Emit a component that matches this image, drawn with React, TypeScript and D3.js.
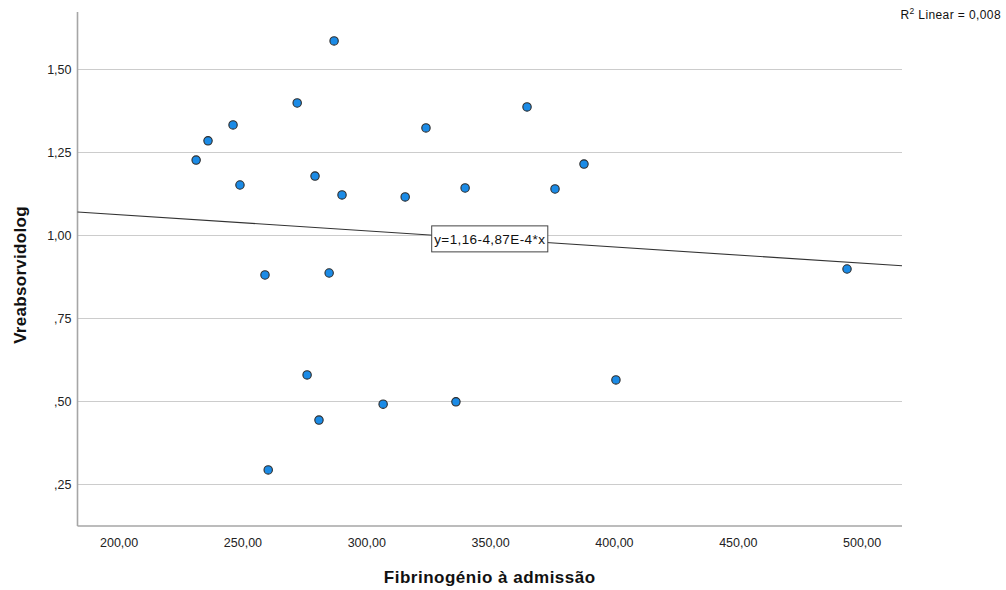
import React, { useRef, useEffect } from 'react';
import * as d3 from 'd3';

// values
const fibrinogenio = [
  231.1, 235.9, 246.0, 248.8, 258.9, 260.2, 271.9, 275.9, 279.1, 280.7, 284.8, 286.8,
  290.0, 306.6, 315.5, 323.9, 336.0, 339.7, 364.7, 376.0, 387.7, 400.6, 493.9,
];
const vreabsorvidolog = [
  1.227, 1.285, 1.333, 1.152, 0.881, 0.294, 1.399, 0.580, 1.179, 0.444, 0.887, 1.586,
  1.122, 0.492, 1.116, 1.324, 0.499, 1.143, 1.387, 1.140, 1.215, 0.565, 0.899,
];
const xTicks = [200, 250, 300, 350, 400, 450, 500];
const yTicks = [0.25, 0.5, 0.75, 1.0, 1.25, 1.5];
const xDomain = [183.2, 516.1];
const yDomain = [0.125, 1.673];
const fitIntercept = 1.16;
const fitSlope = -4.87e-4;
const fitLabel = 'y=1,16-4,87E-4*x';
const rSquared = '0,008';
const xTitle = 'Fibrinogénio à admissão';
const yTitle = 'Vreabsorvidolog';

const WIDTH = 1006;
const HEIGHT = 590;
const FONT = '"Liberation Sans", Arial, sans-serif';

const ptLocale = d3.formatLocale({ decimal: ',', thousands: '.', grouping: [3], currency: ['', ''] });
const fmt2 = ptLocale.format('.2f');
const spssFmt = (v: number) => fmt2(v).replace(/^0,/, ',');

const App: React.FC = () => {
  const ref = useRef<SVGSVGElement | null>(null);

  useEffect(() => {
    const margin = { top: 12, right: 104, bottom: 64, left: 77.5 };
    const w = WIDTH - margin.left - margin.right;
    const h = HEIGHT - margin.top - margin.bottom;

    const svg = d3.select(ref.current);
    svg.selectAll('*').remove();

    const x = d3.scaleLinear().domain(xDomain).range([0, w]);
    const y = d3.scaleLinear().domain(yDomain).range([h, 0]);

    const g = svg.append('g').attr('transform', `translate(${margin.left},${margin.top})`);

    // horizontal gridlines
    g.append('g')
      .selectAll('line')
      .data(yTicks)
      .join('line')
      .attr('x1', 0)
      .attr('x2', w)
      .attr('y1', d => Math.round(y(d)) + 0.5)
      .attr('y2', d => Math.round(y(d)) + 0.5)
      .attr('stroke', '#cccccc')
      .attr('stroke-width', 1.2);

    // axis lines
    g.append('line')
      .attr('x1', 0).attr('x2', 0).attr('y1', 0).attr('y2', h)
      .attr('stroke', '#a6a6a6').attr('stroke-width', 1.6);
    g.append('line')
      .attr('x1', 0).attr('x2', w).attr('y1', h).attr('y2', h)
      .attr('stroke', '#a6a6a6').attr('stroke-width', 1.6);

    // tick labels
    g.append('g')
      .selectAll('text')
      .data(yTicks)
      .join('text')
      .attr('x', -6)
      .attr('y', d => y(d))
      .attr('dy', '0.35em')
      .attr('text-anchor', 'end')
      .attr('font-family', FONT)
      .attr('font-size', '12.5px')
      .attr('fill', '#222')
      .text(d => spssFmt(d));

    g.append('g')
      .selectAll('text')
      .data(xTicks)
      .join('text')
      .attr('x', d => x(d))
      .attr('y', h + 21)
      .attr('text-anchor', 'middle')
      .attr('font-family', FONT)
      .attr('font-size', '12.5px')
      .attr('fill', '#222')
      .text(d => spssFmt(d));

    // axis titles
    g.append('text')
      .attr('x', w / 2)
      .attr('y', h + 57)
      .attr('text-anchor', 'middle')
      .attr('font-family', FONT)
      .attr('font-weight', 'bold')
      .attr('font-size', '17px')
      .attr('letter-spacing', '0.5px')
      .attr('fill', '#111')
      .text(xTitle);

    g.append('text')
      .attr('transform', 'rotate(-90)')
      .attr('x', -h / 2 - 6)
      .attr('y', -52)
      .attr('text-anchor', 'middle')
      .attr('font-family', FONT)
      .attr('font-weight', 'bold')
      .attr('font-size', '17px')
      .attr('letter-spacing', '0.3px')
      .attr('fill', '#111')
      .text(yTitle);

    // points
    const pts = fibrinogenio.map((v, i) => ({ x: v, y: vreabsorvidolog[i] }));
    g.append('g')
      .selectAll('circle')
      .data(pts)
      .join('circle')
      .attr('cx', d => x(d.x))
      .attr('cy', d => y(d.y))
      .attr('r', 4.2)
      .attr('fill', '#1b8be6')
      .attr('stroke', '#2b2b2b')
      .attr('stroke-width', 1.1);

    // fit line
    const fitPts = xDomain.map(v => ({ x: v, y: fitIntercept + fitSlope * v }));
    const line = d3.line<{ x: number; y: number }>().x(p => x(p.x)).y(p => y(p.y));
    g.append('path')
      .attr('d', line(fitPts))
      .attr('fill', 'none')
      .attr('stroke', '#333')
      .attr('stroke-width', 1.1);

    // equation label
    const midX = (xDomain[0] + xDomain[1]) / 2;
    const lab = g.append('g')
      .attr('transform', `translate(${x(midX)},${y(fitIntercept + fitSlope * midX)})`);
    const labText = lab.append('text')
      .attr('text-anchor', 'middle')
      .attr('dy', '0.35em')
      .attr('font-family', FONT)
      .attr('font-size', '13.5px')
      .attr('letter-spacing', '0.4px')
      .attr('fill', '#111')
      .text(fitLabel);
    const bb = (labText.node() as SVGTextElement).getBBox();
    lab.insert('rect', 'text')
      .attr('x', bb.x - 2.5)
      .attr('y', -13)
      .attr('width', bb.width + 5)
      .attr('height', 26)
      .attr('fill', '#fff')
      .attr('stroke', '#444')
      .attr('stroke-width', 1);

    // R2 annotation
    const r2 = svg.append('text')
      .attr('x', WIDTH - 5)
      .attr('y', 19)
      .attr('text-anchor', 'end')
      .attr('font-family', FONT)
      .attr('font-size', '12px')
      .attr('letter-spacing', '0.4px')
      .attr('fill', '#111');
    r2.append('tspan').text('R');
    r2.append('tspan').attr('dy', -5).attr('font-size', '8.5px').text('2');
    r2.append('tspan').attr('dy', 5).text(` Linear = ${rSquared}`);
  }, []);

  return (
    <svg
      ref={ref}
      width={WIDTH}
      height={HEIGHT}
      style={{ position: 'absolute', left: 0, top: 0, background: '#fff' }}
    />
  );
};

export default App;
